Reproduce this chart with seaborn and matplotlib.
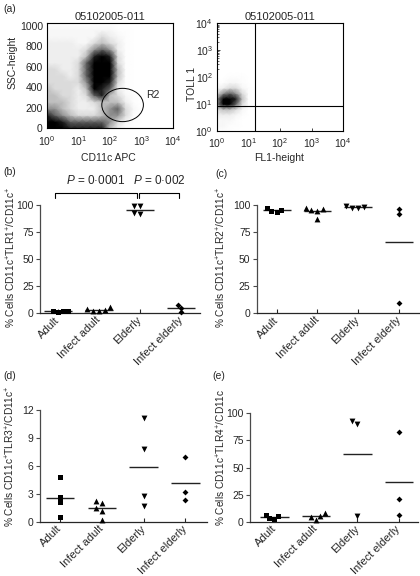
import numpy as np
import pandas as pd
import seaborn as sns
import matplotlib.pyplot as plt
from matplotlib.patches import Ellipse
from matplotlib.colors import PowerNorm

groups = ["Adult", "Infect adult", "Elderly", "Infect elderly"]
markers = ["s", "^", "v", "D"]
marker_sizes = [3.6, 4.2, 4.2, 3.0]

# (b) TLR1
tlr1_adult = [2.0, 0.5, 1.5, 2.0]
tlr1_inf_adult = [3.5, 5.5, 3.0, 1.5, 2.0]
tlr1_elderly = [99.5, 99.0, 92.0, 92.5]
tlr1_inf_elderly = [7.5, 5.0, 1.0]
# (c) TLR2
tlr2_adult = [95.5, 94.0, 97.0, 93.5]
tlr2_inf_adult = [97.5, 95.0, 94.5, 87.0, 96.0]
tlr2_elderly = [98.0, 97.0, 97.5, 99.0]
tlr2_inf_elderly = [96.0, 92.0, 9.0]
# (d) TLR3
tlr3_adult = [4.8, 2.7, 2.1, 0.5]
tlr3_inf_adult = [1.5, 2.0, 2.2, 1.2, 0.2]
tlr3_elderly = [11.1, 7.8, 2.8, 1.7]
tlr3_inf_elderly = [7.0, 3.2, 2.3]
# (e) TLR4
tlr4_adult = [5.5, 2.5, 6.5, 3.0]
tlr4_inf_adult = [4.6, 8.3, 1.5, 5.5]
tlr4_elderly = [93.0, 90.0, 5.3]
tlr4_inf_elderly = [82.5, 21.0, 6.0]

# p values for panel (b)
p_values = ["0·0001", "0·002"]

# (a) event density, 0 (none) .. 9 (solid black)
# SSC vs CD11c, rows top (1024) -> bottom (0), columns 10^0 -> 10^4 every 0.25 decade
ssc_density = [
    "11111111100000000",
    "22222222211000000",
    "22222224321000000",
    "33332245431000000",
    "33333467631000000",
    "33333589841000000",
    "33334799941000000",
    "44334799951000000",
    "44434799951000000",
    "44444699841000000",
    "54443598731000000",
    "55443478542100000",
    "55543345553100000",
    "66543335674200000",
    "87654445664100000",
    "99877777642100000",
    "99988888531000000",
]
# TOLL 1 vs FL1, rows top (10^2.2) -> bottom (10^0), columns 10^0 -> 10^1.4 every 0.2 decade
toll_density = [
    "00000000",
    "00111000",
    "11221000",
    "23442100",
    "46764100",
    "69985100",
    "69974100",
    "45542000",
    "33321000",
    "22210000",
    "22110000",
    "11100000",
]

sns.set_style("ticks")
plt.rcParams["font.family"] = ["Liberation Sans", "DejaVu Sans"]
plt.rcParams["mathtext.fontset"] = "custom"
plt.rcParams["mathtext.rm"] = "Liberation Sans"
plt.rcParams["mathtext.it"] = "Liberation Sans:italic"
plt.rcParams["mathtext.bf"] = "Liberation Sans:bold"

W, H = 420, 576
fig = plt.figure(figsize=(W / 100, H / 100), dpi=100)


def px_axes(left, top, right, bottom):
    return fig.add_axes([left / W, 1 - bottom / H, (right - left) / W, (bottom - top) / H])


def density(ax, rows, x_nodes, y_nodes):
    grid = np.array([[int(c) for c in r] for r in rows[::-1]], dtype=float)
    X, Y = np.meshgrid(x_nodes, y_nodes)
    ax.pcolormesh(X, Y, grid, shading="gouraud", cmap="Greys",
                  norm=PowerNorm(gamma=1.9, vmin=0, vmax=8.5), rasterized=True)


def flow_style(ax):
    for s in ax.spines.values():
        s.set_visible(True)
        s.set_linewidth(0.8)
        s.set_color("black")
    ax.tick_params(which="major", direction="in", length=2.5, width=0.6, labelsize=7.5, pad=3)
    ax.tick_params(axis="x", which="major", pad=4)
    ax.tick_params(which="minor", direction="in", length=1.5, width=0.5)
    ax.set_title("05102005-011", fontsize=8, pad=2.5)


# ---- (a) left: SSC vs CD11c
ax = px_axes(47, 23.3, 173, 128.3)
density(ax, ssc_density, 10 ** np.linspace(0, 4, 17), np.linspace(0, 1024, 17))
ax.set_xscale("log")
ax.set_xlim(1, 1e4)
ax.set_ylim(0, 1024)
ax.set_yticks([0, 200, 400, 600, 800, 1000])
ax.set_xticks([1, 10, 100, 1000, 10000])
ax.add_patch(Ellipse((0.6, 0.222), 0.33, 0.317, transform=ax.transAxes,
                     fill=False, color="black", lw=0.7))
ax.text(0.84, 0.32, "R2", transform=ax.transAxes, fontsize=7.5, ha="center", va="center")
flow_style(ax)
ax.set_xlabel("CD11c APC", fontsize=7.5)
ax.set_ylabel("SSC-height", fontsize=7.5, va="center")
ax.xaxis.set_label_coords(0.49, -0.235)
ax.yaxis.set_label_coords(-0.27, 0.63)

# ---- (a) right: TOLL 1 vs FL1
ax = px_axes(217, 23.3, 343, 131)
density(ax, toll_density, 10 ** np.linspace(0, 1.4, 8), 10 ** np.linspace(0, 2.2, 12))
ax.set_xscale("log")
ax.set_yscale("log")
ax.set_xlim(1, 1e4)
ax.set_ylim(1, 1e4)
ax.set_xticks([1, 10, 100, 1000, 10000])
ax.set_yticks([1, 10, 100, 1000, 10000])
ax.axvline(10 ** 1.21, color="black", lw=0.8)
ax.axhline(10 ** 0.93, color="black", lw=0.8)
flow_style(ax)
ax.set_xlabel("FL1-height", fontsize=7.5)
ax.set_ylabel("TOLL 1", fontsize=7.5, va="center")
ax.xaxis.set_label_coords(0.49, -0.2)
ax.yaxis.set_label_coords(-0.2, 0.435)


# ---- dot panels
def dot_panel(ax, values, ylim, yticks, ylabel, xlim, label_xy):
    df = pd.DataFrame({
        "group": np.repeat(groups, [len(v) for v in values]),
        "value": np.concatenate(values),
    })
    for g, m, ms in zip(groups, markers, marker_sizes):
        sns.swarmplot(data=df[df["group"] == g], x="group", y="value", order=groups,
                      marker=m, color="black", size=ms, linewidth=0, ax=ax, clip_on=False)
    means = df.groupby("group")["value"].mean().reindex(groups)
    for i, mu in enumerate(means):
        ax.hlines(mu, i - 0.34, i + 0.34, color="#222222", lw=1.0)
    ax.set_xlim(*xlim)
    ax.set_ylim(*ylim)
    ax.set_yticks(yticks)
    ax.set_xticks(range(len(groups)))
    ax.set_xticklabels(groups, rotation=45, ha="right", va="center", rotation_mode="anchor")
    sns.despine(ax=ax)
    ax.spines["left"].set_color("#4a4a4a")
    ax.spines["left"].set_linewidth(0.9)
    ax.spines["bottom"].set_linewidth(0.9)
    ax.tick_params(axis="y", direction="out", length=3, width=0.8, labelsize=7.5, pad=1.5,
                   color="#4a4a4a")
    ax.tick_params(axis="x", direction="in", length=3, width=0.8, labelsize=8, pad=4)
    ax.set_xlabel("")
    ax.set_ylabel(ylabel, fontsize=7.3, va="center")
    ax.yaxis.set_label_coords(*label_xy)


ax_b = px_axes(40, 205, 200, 313)
dot_panel(ax_b, [tlr1_adult, tlr1_inf_adult, tlr1_elderly, tlr1_inf_elderly],
          (0, 100), [0, 25, 50, 75, 100],
          r"% Cells CD11c$^{+}$TLR1$^{+}$/CD11c$^{+}$", (-0.44, 3.46), (-0.18, 0.52))
bracket_x = [(-0.07, 1.92), (1.98, 2.96)]
for (x0, x1), p in zip(bracket_x, p_values):
    ax_b.plot([x0, x0, x1, x1], [106.5, 111.4, 111.4, 106.5], color="black", lw=0.8, clip_on=False)
    ax_b.text((x0 + x1) / 2, 122.5, f"$P$ = {p}", ha="center", va="center", fontsize=8.5)

ax_c = px_axes(256.7, 205, 419, 313)
dot_panel(ax_c, [tlr2_adult, tlr2_inf_adult, tlr2_elderly, tlr2_inf_elderly],
          (0, 100), [0, 25, 50, 75, 100],
          r"% Cells CD11c$^{+}$TLR2$^{+}$/CD11c$^{+}$", (-0.49, 3.49), (-0.22, 0.52))

ax_d = px_axes(40, 410, 206.7, 521.7)
dot_panel(ax_d, [tlr3_adult, tlr3_inf_adult, tlr3_elderly, tlr3_inf_elderly],
          (0, 12), [0, 3, 6, 9, 12],
          r"% Cells CD11c$^{+}$TLR3$^{+}$/CD11c$^{+}$", (-0.48, 3.51), (-0.18, 0.59))

ax_e = px_axes(250, 413.3, 418, 521.7)
dot_panel(ax_e, [tlr4_adult, tlr4_inf_adult, tlr4_elderly, tlr4_inf_elderly],
          (0, 100), [0, 25, 50, 75, 100],
          r"% Cells CD11c$^{+}$TLR4$^{+}$/CD11c", (-0.59, 3.46), (-0.173, 0.59))

# panel letters
for lab, x, y in [("(a)", 3, 8.5), ("(b)", 3, 172), ("(c)", 215, 174), ("(d)", 3, 376), ("(e)", 212, 376)]:
    fig.text(x / W, 1 - y / H, lab, fontsize=7.5, ha="left", va="center")

fig.savefig("out.png", dpi=100)
